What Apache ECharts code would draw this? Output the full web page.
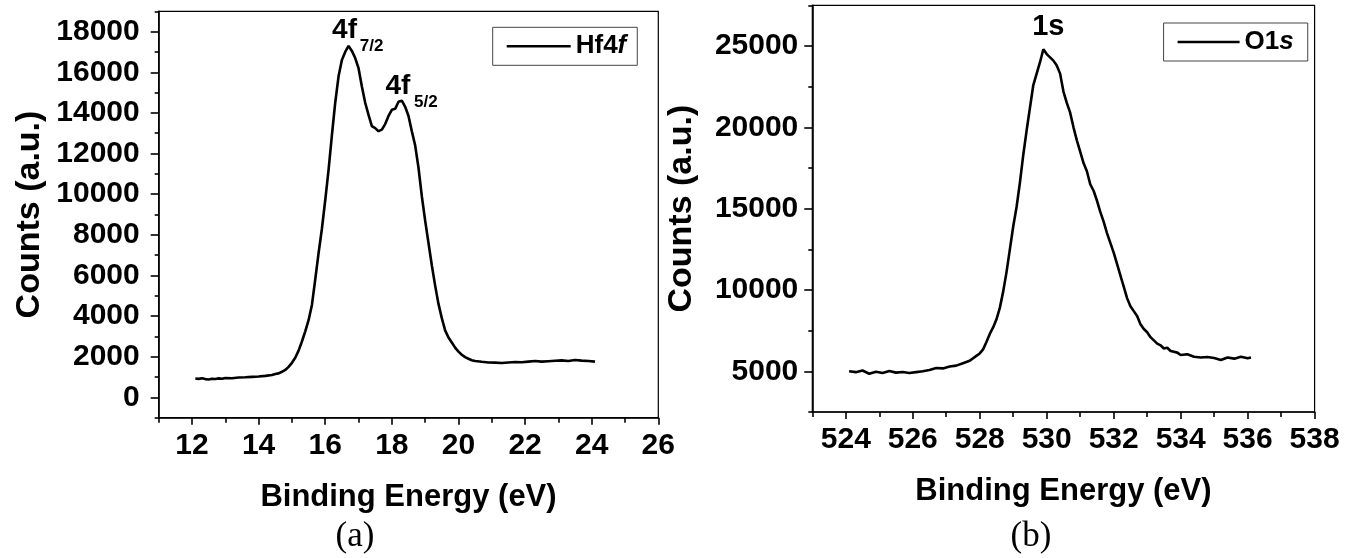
<!DOCTYPE html>
<html>
<head>
<meta charset="utf-8">
<script src="https://cdn.jsdelivr.net/npm/echarts@6/dist/echarts.min.js"></script>
<style>
  html, body { margin: 0; padding: 0; background: #fff; }
  #chart { width: 1356px; height: 558px; }
</style>
</head>
<body>
<div id="chart"></div>
<script>
// Hf 4f core-level spectrum
const hfEnergy = [
  12.1, 12.2, 12.3, 12.4, 12.5, 12.6, 12.7, 12.8, 12.9, 13.0,
  13.2, 13.4, 13.6, 13.8, 14.0, 14.2, 14.4, 14.5, 14.6, 14.7,
  14.8, 14.9, 15.0, 15.1, 15.2, 15.3, 15.4, 15.5, 15.6, 15.7,
  15.8, 15.9, 16.0, 16.1, 16.2, 16.3, 16.4, 16.5, 16.6, 16.7,
  16.8, 16.9, 17.0, 17.1, 17.2, 17.3, 17.4, 17.5, 17.6, 17.7,
  17.8, 17.9, 18.0, 18.1, 18.2, 18.3, 18.4, 18.5, 18.6, 18.7,
  18.8, 18.9, 19.0, 19.1, 19.2, 19.3, 19.4, 19.5, 19.6, 19.7,
  19.8, 19.9, 20.0, 20.1, 20.2, 20.3, 20.4, 20.5, 20.7, 20.9,
  21.1, 21.3, 21.5, 21.7, 21.9, 22.1, 22.3, 22.5, 22.7, 22.9,
  23.1, 23.3, 23.5, 23.7, 23.9, 24.1
];
const hfCounts = [
  930, 910, 940, 900, 880, 920, 905, 935, 915, 950,
  940, 975, 990, 1010, 1030, 1060, 1100, 1150, 1180, 1260,
  1350, 1500, 1700, 1950, 2300, 2750, 3250, 3800, 4550, 5800,
  7100, 8300, 9700, 11200, 12900, 14500, 15800, 16600, 17000, 17300,
  17050, 16700, 16200, 15300, 14500, 13900, 13350, 13250, 13100, 13180,
  13450, 13850, 14150, 14200, 14550, 14600, 14300, 13850, 13100, 12400,
  11300, 9900, 8700, 7600, 6500, 5500, 4600, 3900, 3300, 2950,
  2700, 2450, 2250, 2100, 1980, 1900, 1830, 1790, 1750, 1720,
  1710, 1690, 1720, 1740, 1730, 1760, 1790, 1760, 1780, 1800,
  1820, 1790, 1840, 1810, 1790, 1760
];

// O 1s core-level spectrum
const oEnergy = [
  524.1, 524.3, 524.5, 524.7, 524.9, 525.1, 525.3, 525.5, 525.7, 525.9,
  526.1, 526.3, 526.5, 526.7, 526.9, 527.1, 527.3, 527.5, 527.7, 527.9,
  528.0, 528.1, 528.2, 528.3, 528.4, 528.5, 528.6, 528.7, 528.8, 528.9,
  529.0, 529.1, 529.2, 529.3, 529.4, 529.5, 529.6, 529.7, 529.8, 529.9,
  530.0, 530.1, 530.2, 530.3, 530.4, 530.5, 530.6, 530.7, 530.8, 530.9,
  531.0, 531.1, 531.2, 531.3, 531.4, 531.5, 531.6, 531.7, 531.8, 531.9,
  532.0, 532.1, 532.2, 532.3, 532.4, 532.5, 532.6, 532.7, 532.8, 532.9,
  533.0, 533.1, 533.2, 533.3, 533.4, 533.5, 533.6, 533.7, 533.8, 533.9,
  534.0, 534.2, 534.4, 534.6, 534.8, 535.0, 535.2, 535.4, 535.6, 535.8,
  536.0, 536.1
];
const oCounts = [
  5000, 4950, 5050, 4850, 4980, 4900, 5020, 4920, 4960, 4900,
  4950, 5000, 5080, 5200, 5180, 5300, 5350, 5500, 5650, 5950,
  6100, 6350, 6800, 7300, 7700, 8200, 8900, 9900, 11100, 12500,
  13900, 15100, 16600, 18300, 19800, 21200, 22600, 23300, 24000, 24800,
  24500, 24300, 24100, 23800, 23300, 22200, 21500, 20900, 20000, 19200,
  18500, 17800, 17300, 16500, 16100, 15500, 14800, 14200, 13500, 12900,
  12300, 11600, 10900, 10200, 9500, 9000, 8700, 8400, 7900, 7600,
  7400, 7100, 6900, 6700, 6600, 6400, 6450, 6250, 6200, 6150,
  6000, 6050, 5900, 5850, 5880, 5820, 5700, 5850, 5780, 5900,
  5800, 5850
];

// Axis tick positions (labelled majors and unlabelled minors)
const hfXMajor = [12, 14, 16, 18, 20, 22, 24, 26];
const hfXMinor = [11, 13, 15, 17, 19, 21, 23, 25];
const hfYMajor = [0, 2000, 4000, 6000, 8000, 10000, 12000, 14000, 16000, 18000];
const hfYMinor = [-1000, 1000, 3000, 5000, 7000, 9000, 11000, 13000, 15000, 17000, 19000];
const oXMajor = [524, 526, 528, 530, 532, 534, 536, 538];
const oXMinor = [523, 525, 527, 529, 531, 533, 535, 537];
const oYMajor = [5000, 10000, 15000, 20000, 25000];
const oYMinor = [2500, 7500, 12500, 17500, 22500, 27500];

const FONT = '"Liberation Sans", Arial, Helvetica, sans-serif';
const plain = (v) => String(v);

function pairs(xs, ys) { return xs.map((x, i) => [x, ys[i]]); }
function peakIndex(xs, ys, lo, hi) {
  let best = -1;
  for (let i = 0; i < xs.length; i++) {
    if (xs[i] >= lo && xs[i] <= hi && (best < 0 || ys[i] > ys[best])) best = i;
  }
  return best;
}

const p1 = peakIndex(hfEnergy, hfCounts, 16, 17.5);
const p2 = peakIndex(hfEnergy, hfCounts, 17.8, 19);
const p3 = peakIndex(oEnergy, oCounts, 528, 532);

function xAxes(gridIndex, min, max, major, minor, nameText) {
  return [
    {
      gridIndex, type: 'value', min, max, interval: 1,
      axisLine: { show: true, onZero: false, lineStyle: { color: '#000', width: 1.6 } },
      axisTick: { show: true, inside: false, length: 7, customValues: major, lineStyle: { color: '#000', width: 1.6 } },
      axisLabel: { show: true, customValues: major, formatter: plain, margin: 13, color: '#000', fontFamily: FONT, fontWeight: 'bold', fontSize: 30 },
      splitLine: { show: false },
      name: nameText, nameLocation: 'middle', nameGap: 64,
      nameTextStyle: { color: '#000', fontFamily: FONT, fontWeight: 'bold', fontSize: 31 }
    },
    {
      gridIndex, type: 'value', min, max, interval: 1, position: 'bottom',
      axisLine: { show: false, onZero: false },
      axisTick: { show: true, inside: false, length: 5, customValues: minor, lineStyle: { color: '#000', width: 1.6 } },
      axisLabel: { show: false },
      splitLine: { show: false }
    }
  ];
}

function yAxes(gridIndex, min, max, interval, major, minor, margin, gap) {
  return [
    {
      gridIndex, type: 'value', min, max, interval,
      axisLine: { show: true, onZero: false, lineStyle: { color: '#000', width: 1.6 } },
      axisTick: { show: true, inside: false, length: 8, customValues: major, lineStyle: { color: '#000', width: 1.6 } },
      axisLabel: { show: true, customValues: major, formatter: plain, margin, color: '#000', fontFamily: FONT, fontWeight: 'bold', fontSize: 30 },
      splitLine: { show: false },
      name: 'Counts (a.u.)', nameLocation: 'middle', nameGap: gap, nameRotate: 90,
      nameTextStyle: { color: '#000', fontFamily: FONT, fontWeight: 'bold', fontSize: 34 }
    },
    {
      gridIndex, type: 'value', min, max, interval, position: 'left',
      axisLine: { show: false, onZero: false },
      axisTick: { show: true, inside: false, length: 4, customValues: minor, lineStyle: { color: '#000', width: 1.6 } },
      axisLabel: { show: false },
      splitLine: { show: false }
    }
  ];
}

const peakLabel = (size) => ({
  show: true, position: 'inside', color: '#000',
  fontFamily: FONT, fontWeight: 'bold', fontSize: size
});

const option = {
  animation: false,
  backgroundColor: '#fff',
  grid: [
    { left: 158.7, top: 11.3, width: 499.6, height: 406.4, show: true, borderColor: '#000', borderWidth: 1.2, backgroundColor: 'transparent' },
    { left: 812.3, top: 5.3, width: 502.3, height: 406.7, show: true, borderColor: '#000', borderWidth: 1.2, backgroundColor: 'transparent' }
  ],
  xAxis: [
    ...xAxes(0, 11, 26, hfXMajor, hfXMinor, 'Binding Energy (eV)'),
    ...xAxes(1, 523, 538, oXMajor, oXMinor, 'Binding Energy (eV)')
  ],
  yAxis: [
    ...yAxes(0, -1000, 19000, 1000, hfYMajor, hfYMinor, 19, 112),
    ...yAxes(1, 2500, 27500, 2500, oYMajor, oYMinor, 14, 114)
  ],
  legend: [
    {
      data: ['Hf4f'], left: 492.7, top: 27.3, orient: 'horizontal',
      icon: 'rect', itemWidth: 64, itemHeight: 2.5,
      padding: [6, 11, 6, 14], borderColor: '#444', borderWidth: 1,
      formatter: () => '{b|Hf4}{i|f}',
      textStyle: {
        color: '#000', fontFamily: FONT, fontWeight: 'bold', fontSize: 26,
        rich: {
          b: { color: '#000', fontFamily: FONT, fontWeight: 'bold', fontSize: 26 },
          i: { color: '#000', fontFamily: FONT, fontWeight: 'bold', fontStyle: 'italic', fontSize: 26 }
        }
      }
    },
    {
      data: ['O1s'], left: 1163.6, top: 23, orient: 'horizontal',
      icon: 'rect', itemWidth: 62, itemHeight: 2.5,
      padding: [6, 14, 6, 14], borderColor: '#444', borderWidth: 1,
      formatter: () => '{b|O1}{i|s}',
      textStyle: {
        color: '#000', fontFamily: FONT, fontWeight: 'bold', fontSize: 26,
        rich: {
          b: { color: '#000', fontFamily: FONT, fontWeight: 'bold', fontSize: 26 },
          i: { color: '#000', fontFamily: FONT, fontWeight: 'bold', fontStyle: 'italic', fontSize: 26 }
        }
      }
    }
  ],
  series: [
    {
      name: 'Hf4f', type: 'line', xAxisIndex: 0, yAxisIndex: 0,
      data: pairs(hfEnergy, hfCounts), symbol: 'none', smooth: false,
      lineStyle: { color: '#000', width: 2.6 }, itemStyle: { color: '#000' },
      markPoint: {
        symbol: 'circle', symbolSize: 0, itemStyle: { color: 'transparent' },
        data: [
          { coord: [hfEnergy[p1], hfCounts[p1]], label: { ...peakLabel(28), formatter: '4f', offset: [-4, -16] } },
          { coord: [hfEnergy[p1], hfCounts[p1]], label: { ...peakLabel(17), formatter: '7/2', offset: [23, 0] } },
          { coord: [hfEnergy[p2], hfCounts[p2]], label: { ...peakLabel(28), formatter: '4f', offset: [-4, -14] } },
          { coord: [hfEnergy[p2], hfCounts[p2]], label: { ...peakLabel(17), formatter: '5/2', offset: [24, 2] } }
        ]
      }
    },
    {
      name: 'O1s', type: 'line', xAxisIndex: 2, yAxisIndex: 2,
      data: pairs(oEnergy, oCounts), symbol: 'none', smooth: false,
      lineStyle: { color: '#000', width: 2.6 }, itemStyle: { color: '#000' },
      markPoint: {
        symbol: 'circle', symbolSize: 0, itemStyle: { color: 'transparent' },
        data: [
          { coord: [oEnergy[p3], oCounts[p3]], label: { ...peakLabel(29), formatter: '1s', offset: [5, -22] } }
        ]
      }
    }
  ],
  graphic: [
    { type: 'text', x: 355, y: 537, style: { text: '(a)', fill: '#000', font: '35px "Liberation Serif", "Times New Roman", serif', textAlign: 'center', textVerticalAlign: 'middle' } },
    { type: 'text', x: 1031, y: 537, style: { text: '(b)', fill: '#000', font: '35px "Liberation Serif", "Times New Roman", serif', textAlign: 'center', textVerticalAlign: 'middle' } }
  ]
};

const chart = echarts.init(document.getElementById('chart'), null, { renderer: 'canvas' });
chart.setOption(option);
</script>
</body>
</html>
